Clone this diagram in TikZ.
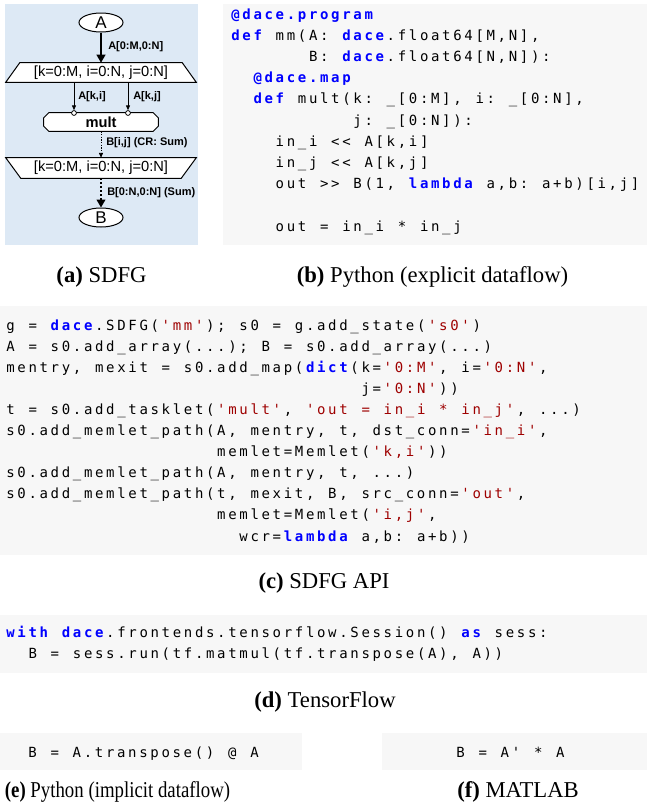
\documentclass[tikz,border=0pt]{standalone}
\usepackage{fontspec}
\usepackage{graphicx}
\setmainfont{Liberation Serif}
\newfontfamily\diagfont{Liberation Sans}
\newfontfamily\codefont{DejaVu Sans Mono}[Ligatures=TeXOff]
\usetikzlibrary{shapes.geometric,arrows.meta,calc}

\definecolor{kwblue}{RGB}{0,0,255}
\definecolor{strred}{RGB}{158,0,0}
\definecolor{codebg}{RGB}{247,247,247}
\definecolor{sdfgbg}{RGB}{221,233,245}

% Fixed-pitch code lines: every character sits in its own cell.
% In the argument, ` toggles keyword style and | toggles string style.
\ExplSyntaxOn
\bool_new:N \l_dcode_kw_bool
\bool_new:N \l_dcode_st_bool
\dim_new:N \l_dcode_cell_dim
\dim_set:Nn \l_dcode_cell_dim { 8.325pt }
\cs_new_protected:Npn \dcode_cell:n #1
  {
    \hbox_to_wd:nn { \l_dcode_cell_dim }
      {
        \hfil
        \bool_if:NTF \l_dcode_kw_bool
          { \bfseries \color{kwblue} }
          { \bool_if:NT \l_dcode_st_bool { \color{strred} } }
        #1
        \hfil
      }
  }
\NewDocumentCommand \codeline { m }
  {
    \bool_set_false:N \l_dcode_kw_bool
    \bool_set_false:N \l_dcode_st_bool
    \str_map_inline:nn { #1 }
      {
        \str_if_eq:nnTF { ##1 } { ` }
          { \bool_set_inverse:N \l_dcode_kw_bool }
          {
            \str_if_eq:nnTF { ##1 } { | }
              { \bool_set_inverse:N \l_dcode_st_bool }
              { \dcode_cell:n { ##1 } }
          }
      }
  }
\ExplSyntaxOff

\tikzset{
  code/.style={anchor=base west,inner sep=0pt,outer sep=0pt,font=\fontsize{10.5pt}{12pt}\codefont},
  captext/.style={anchor=base,inner sep=0pt,font=\fontsize{17pt}{20pt}\selectfont},
  datanode/.style={ellipse,draw,fill=white,line width=0.75pt,inner sep=0pt,
    minimum width=33pt,minimum height=14.25pt,font=\diagfont\fontsize{12.75pt}{14pt}\selectfont},
  mapbox/.style={inner sep=0pt,minimum width=142.5pt,font=\diagfont\fontsize{11pt}{13pt}\selectfont},
  taskbox/.style={inner sep=0pt,minimum width=85.5pt,minimum height=13.5pt,
    font=\diagfont\bfseries\fontsize{11pt}{13pt}\selectfont},
  shapeline/.style={draw,fill=white,line width=0.75pt,line join=miter},
  conn/.style={circle,draw,fill=white,line width=0.6pt,inner sep=0pt,minimum size=3.6pt},
  elabel/.style={anchor=west,inner sep=0pt,font=\diagfont\bfseries\fontsize{8.25pt}{10pt}\selectfont},
  bigarrow/.style={line width=1.5pt,-{Triangle[length=6pt,width=6.5pt]}},
  smallarrow/.style={line width=0.6pt,-{Triangle[length=3.6pt,width=3pt]}},
  dotarrow/.style={line width=0.6pt,dash pattern=on 1pt off 1pt,-{Triangle[length=3.6pt,width=3pt]}},
  bigdotarrow/.style={line width=1.5pt,dash pattern=on 1.5pt off 1.5pt,-{Triangle[length=6pt,width=6.5pt]}},
}

\begin{document}
\begin{tikzpicture}[x=0.75pt,y=-0.75pt]
\useasboundingbox (0,0) rectangle (647,811);

% backgrounds
\fill[sdfgbg] (5,4) rectangle (198,245);
\fill[codebg] (223,4) rectangle (647,245);
\fill[codebg] (0,306) rectangle (647,555);
\fill[codebg] (0,615) rectangle (647,673);
\fill[codebg] (0,733) rectangle (302,770);
\fill[codebg] (382,733) rectangle (647,770);

% ---------- (a) the SDFG ----------
\node[datanode] (A) at (101,22.5) {A};
\node[mapbox,minimum height=14.25pt] (entry) at (101,72.5) {};
\node[taskbox] (mult) at (101,122) {};
\node[mapbox,minimum height=15pt] (exit) at (101,168) {};
\node[datanode] (B) at (101,217.5) {B};

% map entry / exit outlines and tasklet octagon
\path[shapeline] ($(entry.north west)+(14,0)$) -- ($(entry.north east)+(-14,0)$)
  -- (entry.south east) -- (entry.south west) -- cycle;
\path[shapeline] (exit.north west) -- (exit.north east)
  -- ($(exit.south east)+(-15,0)$) -- ($(exit.south west)+(15,0)$) -- cycle;
\path[shapeline] ($(mult.north west)+(5,0)$) -- ($(mult.north east)+(-5,0)$)
  -- ($(mult.north east)+(0,5)$) -- ($(mult.south east)+(0,-5)$)
  -- ($(mult.south east)+(-5,0)$) -- ($(mult.south west)+(5,0)$)
  -- ($(mult.south west)+(0,-5)$) -- ($(mult.north west)+(0,5)$) -- cycle;
\node[mapbox,minimum height=14.25pt] (entrytext) at (entry) {[k=0:M, i=0:N, j=0:N]};
\node[taskbox] (multtext) at (mult) {mult};
\node[mapbox,minimum height=15pt] (exittext) at (exit) {[k=0:M, i=0:N, j=0:N]};

% tasklet input connectors
\node[conn] (ini) at (74,113) {};
\node[conn] (inj) at (128,113) {};

% memlets
\draw[bigarrow] (A.south) -- (entry.north);
\draw[smallarrow] (entry.south -| ini) -- (ini.north);
\draw[smallarrow] (entry.south -| inj) -- (inj.north);
\draw[dotarrow] (mult.south) -- (exit.north);
\draw[bigdotarrow] (exit.south) -- (B.north);

% memlet labels
\node[elabel] (lA) at (108,47) {A[0:M,0:N]};
\node[elabel] (lki) at (78,97) {A[k,i]};
\node[elabel] (lkj) at (133,97) {A[k,j]};
\node[elabel] (lcr) at (106,143) {B[i,j] (CR: Sum)};
\node[elabel] (lB) at (107,193) {B[0:N,0:N] (Sum)};

% ---------- (b) Python, explicit dataflow ----------
\node[code] (b1) at (230,19) {\codeline{`@dace.program`}};
\node[code] (b2) at (230,40.2) {\codeline{`def` mm(A: `dace`.float64[M,N],}};
\node[code] (b3) at (307.7,61.4) {\codeline{B: `dace`.float64[N,N]):}};
\node[code] (b4) at (252.2,82.6) {\codeline{`@dace.map`}};
\node[code] (b5) at (252.2,103.8) {\codeline{`def` mult(k: _[0:M], i: _[0:N],}};
\node[code] (b6) at (352.1,125) {\codeline{j: _[0:N]):}};
\node[code] (b7) at (274.4,146.2) {\codeline{in_i << A[k,i]}};
\node[code] (b8) at (274.4,167.4) {\codeline{in_j << A[k,j]}};
\node[code] (b9) at (274.4,188.6) {\codeline{out >> B(1, `lambda` a,b: a+b)[i,j]}};
\node[code] (b10) at (274.4,231) {\codeline{out = in_i * in_j}};

% ---------- (c) SDFG API ----------
\node[code] (c1) at (5,330) {\codeline{g = `dace`.SDFG(|'mm'|); s0 = g.add_state(|'s0'|)}};
\node[code] (c2) at (5,351.1) {\codeline{A = s0.add_array(...); B = s0.add_array(...)}};
\node[code] (c3) at (5,372.2) {\codeline{mentry, mexit = s0.add_map(`dict`(k=|'0:M'|, i=|'0:N'|,}};
\node[code] (c4) at (360.2,393.3) {\codeline{j=|'0:N'|))}};
\node[code] (c5) at (5,414.4) {\codeline{t = s0.add_tasklet(|'mult'|, |'out = in_i * in_j'|, ...)}};
\node[code] (c6) at (5,435.5) {\codeline{s0.add_memlet_path(A, mentry, t, dst_conn=|'in_i'|,}};
\node[code] (c7) at (215.9,456.6) {\codeline{memlet=Memlet(|'k,i'|))}};
\node[code] (c8) at (5,477.7) {\codeline{s0.add_memlet_path(A, mentry, t, ...)}};
\node[code] (c9) at (5,498.8) {\codeline{s0.add_memlet_path(t, mexit, B, src_conn=|'out'|,}};
\node[code] (c10) at (215.9,519.9) {\codeline{memlet=Memlet(|'i,j'|,}};
\node[code] (c11) at (238.1,541) {\codeline{wcr=`lambda` a,b: a+b))}};

% ---------- (d) TensorFlow ----------
\node[code] (d1) at (5,637) {\codeline{`with` `dace`.frontends.tensorflow.Session() `as` sess:}};
\node[code] (d2) at (27.2,658) {\codeline{B = sess.run(tf.matmul(tf.transpose(A), A))}};

% ---------- (e) implicit dataflow, (f) MATLAB ----------
\node[code] (e1) at (27,757) {\codeline{B = A.transpose() @ A}};
\node[code] (f1) at (455,757) {\codeline{B = A' * A}};

% ---------- captions ----------
\node[captext] (capa) at (101.5,282) {\textbf{(a)} SDFG};
\node[captext] (capb) at (432.5,282) {\textbf{(b)} Python (explicit dataflow)};
\node[captext] (capc) at (324,588) {\textbf{(c)} SDFG API};
\node[captext] (capd) at (325,707) {\textbf{(d)} TensorFlow};
\node[captext] (cape) at (117.5,797) {\scalebox{0.83}[1]{\textbf{(e)} Python (implicit dataflow)}};
\node[captext] (capf) at (518,797) {\textbf{(f)} MATLAB};
\end{tikzpicture}
\end{document}
